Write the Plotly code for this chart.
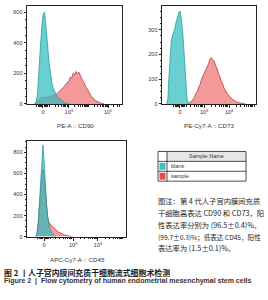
import numpy as np
import plotly.graph_objects as go

W, H = 268, 300

# ---------------- data (histogram counts, display-scale bins) ----------------
cd90_blank_start, cd90_blank_step = 8.0, 1.5
cd90_blank = [0, 12, 60, 180, 360, 500, 585, 600, 520, 400, 280, 200, 145, 105, 80,
              62, 48, 38, 28, 20, 14, 9, 5, 2, 0]
cd90_sample_start, cd90_sample_step = 8.0, 1.5
cd90_sample = [0, 8, 20, 30, 38, 42, 45, 40, 42, 44, 46, 48, 50, 52, 56, 62, 70, 78, 88, 95,
               105, 118, 130, 142, 150, 175, 168, 200, 190, 212, 196, 208, 185, 172, 148, 135,
               108, 98, 76, 64, 46, 40, 26, 21, 13, 10, 6, 4, 2, 0]

cd73_blank_start, cd73_blank_step = 5.0, 1.2
cd73_blank = [0, 20, 110, 200, 250, 275, 285, 300, 325, 340, 350, 372, 375, 345, 300, 235,
              150, 70, 20, 3, 0]
cd73_sample_start, cd73_sample_step = 27.0, 1.5
cd73_sample = [0, 3, 9, 11, 19, 26, 42, 50, 68, 78, 100, 112, 130, 137, 155, 162, 180, 188,
               176, 174, 155, 145, 122, 112, 92, 82, 64, 56, 42, 38, 28, 25, 18, 16, 10, 9,
               5, 4, 3, 2, 1, 0]

cd45_blank_start, cd45_blank_step = 9.0, 1.2
cd45_blank = [0, 40, 150, 330, 560, 780, 870, 700, 480, 300, 180, 110, 65, 38, 20, 10, 4, 0]
cd45_sample_start, cd45_sample_step = 9.0, 1.2
cd45_sample = [0, 30, 120, 280, 450, 590, 640, 560, 420, 280, 180, 135, 118, 105, 92, 85, 72,
               60, 52, 44, 36, 30, 25, 20, 16, 12, 10, 8, 6, 4, 2, 0]

# axis tick labels (display-scale positions of 0 / decades)
cd90_ticks = [16.8, 44.2, 85.3]
cd90_ticktext = ["0", "10<sup>3</sup>", "10<sup>5</sup>"]
cd73_ticks = [19.1, 44.7, 71.3]
cd73_ticktext = ["0", "10<sup>3</sup>", "10<sup>4</sup>"]
cd45_ticks = [17.2, 46.5, 71.7]
cd45_ticktext = ["0", "10<sup>3</sup>", "10<sup>4</sup>"]

cd90_yticks = [0, 200, 400, 600]
cd73_yticks = [0, 100, 200, 300]
cd45_yticks = [0, 200, 400, 600, 800]

x_titles = ["PE-A :: CD90", "PE-Cy7-A :: CD73", "APC-Cy7-A :: CD45"]
legend_header = "Sample Name"
legend_names = ["blank", "sample"]

note_lines = ["图注：第 4 代人子宫内膜间充质",
              "干细胞高表达 CD90 和 CD73，阳",
              "性表达率分别为 (96.5±0.4)%、",
              "(99.7±0.3)%；低表达 CD45，阳性",
              "表达率为 (1.5±0.1)%。"]
title_cn = "图 2 丨人子宫内膜间充质干细胞流式细胞术检测"
title_en = "Figure 2  |  Flow cytometry of human endometrial mesenchymal stem cells"

# ---------------- styles ----------------
BLANK_FILL = "rgba(48,188,190,0.72)"
BLANK_LINE = "#2b9a9c"
SAMPLE_FILL = "rgba(240,110,110,0.7)"
SAMPLE_LINE = "#b93a3c"
SW_BLANK = "#3cc0c0"
SW_SAMPLE = "#e64a4a"
AX = "#222222"
FONT = "Liberation Sans"
CJK = "Noto Sans CJK SC"

fig = go.Figure()


def add_hist(vals, start, step, xa, ya, fill, line):
    x = start + step * np.arange(len(vals))
    fig.add_trace(go.Scatter(x=x, y=vals, xaxis=xa, yaxis=ya, mode="lines",
                             line=dict(color=line, width=0.8), fill="tozeroy",
                             fillcolor=fill, showlegend=False, hoverinfo="skip"))


add_hist(cd90_sample, cd90_sample_start, cd90_sample_step, "x", "y", SAMPLE_FILL, SAMPLE_LINE)
add_hist(cd90_blank, cd90_blank_start, cd90_blank_step, "x", "y", BLANK_FILL, BLANK_LINE)
add_hist(cd73_sample, cd73_sample_start, cd73_sample_step, "x2", "y2", SAMPLE_FILL, SAMPLE_LINE)
add_hist(cd73_blank, cd73_blank_start, cd73_blank_step, "x2", "y2", BLANK_FILL, BLANK_LINE)
add_hist(cd45_sample, cd45_sample_start, cd45_sample_step, "x3", "y3", SAMPLE_FILL, SAMPLE_LINE)
add_hist(cd45_blank, cd45_blank_start, cd45_blank_step, "x3", "y3", BLANK_FILL, BLANK_LINE)


def minor_x(p0, p3, dec):
    cl = list(p0 + np.array([-6.5, -5, -3.6, -2.4, -1.2, 1.2, 2.4, 3.6, 5, 6.5]))
    lg = []
    for d in range(-1, 3):
        base = p3 + d * dec
        for k in range(1, 10):
            v = base + np.log10(k) * dec
            if p0 + 8 < v < 99:
                lg.append(v)
    return cl + lg


def xax(dom, tv, tt, p0, p3, dec, anchor):
    return dict(domain=dom, range=[0, 100], tickmode="array", tickvals=tv, ticktext=tt,
                ticks="outside", ticklen=3, tickwidth=0.8, tickcolor=AX,
                tickfont=dict(family=FONT, size=5.5, color="#333"),
                showline=True, mirror=True, linecolor=AX, linewidth=0.8,
                showgrid=False, zeroline=False, anchor=anchor,
                minor=dict(tickmode="array", tickvals=minor_x(p0, p3, dec), ticks="outside",
                           ticklen=1.8, tickwidth=0.6, tickcolor=AX, showgrid=False))


def yax(dom, rng, tv, mdt, anchor):
    return dict(domain=dom, range=rng, tickmode="array", tickvals=tv,
                ticks="outside", ticklen=2.5, tickwidth=0.8, tickcolor=AX,
                tickfont=dict(family=FONT, size=5.5, color="#333"),
                showline=True, mirror=True, linecolor=AX, linewidth=0.8,
                showgrid=False, zeroline=False, anchor=anchor,
                minor=dict(dtick=mdt, ticks="outside", ticklen=1.5, tickwidth=0.6,
                           tickcolor=AX, showgrid=False))


fig.update_layout(
    width=W, height=H, margin=dict(l=0, r=0, t=0, b=0),
    paper_bgcolor="white", plot_bgcolor="white", showlegend=False,
    xaxis=xax([27 / W, 122 / W], cd90_ticks, cd90_ticktext, 16.8, 44.2, 20.55, "y"),
    yaxis=yax([1 - 105 / H, 1 - 6 / H], [0, 640], cd90_yticks, 50, "x"),
    xaxis2=xax([162 / W, 256 / W], cd73_ticks, cd73_ticktext, 19.1, 44.7, 26.6, "y2"),
    yaxis2=yax([1 - 105 / H, 1 - 6 / H], [0, 396], cd73_yticks, 25, "x2"),
    xaxis3=xax([27 / W, 126 / W], cd45_ticks, cd45_ticktext, 17.2, 46.5, 25.2, "y3"),
    yaxis3=yax([1 - 239 / H, 1 - 142 / H], [0, 913], cd45_yticks, 50, "x3"),
)

ann = []


def text(x, y, s, size, family=FONT, color="#333", xanchor="center", bold=False):
    if bold:
        s = "<b>" + s + "</b>"
    ann.append(dict(x=x / W, y=1 - y / H, xref="paper", yref="paper", text=s,
                    showarrow=False, xanchor=xanchor, yanchor="middle",
                    font=dict(family=family, size=size, color=color)))


text(75, 127, x_titles[0], 6.2)
text(209, 127, x_titles[1], 6.2)
text(77, 262, x_titles[2], 6.2)

# legend table
shapes = []


def rect(x0, y0, x1, y1, fill=None, line=AX, lw=0.8):
    shapes.append(dict(type="rect", xref="paper", yref="paper",
                       x0=x0 / W, x1=x1 / W, y0=1 - y0 / H, y1=1 - y1 / H,
                       fillcolor=fill if fill else "rgba(0,0,0,0)",
                       line=dict(color=line, width=lw)))


def hline(x0, x1, y, lw=0.8):
    shapes.append(dict(type="line", xref="paper", yref="paper", x0=x0 / W, x1=x1 / W,
                       y0=1 - y / H, y1=1 - y / H, line=dict(color=AX, width=lw)))


def vline(x, y0, y1, lw=0.8):
    shapes.append(dict(type="line", xref="paper", yref="paper", x0=x / W, x1=x / W,
                       y0=1 - y0 / H, y1=1 - y1 / H, line=dict(color=AX, width=lw)))


rect(167, 153, 246, 163, fill="#e6e6e6", line="rgba(0,0,0,0)", lw=0)
rect(158, 153, 246, 183)
hline(158, 246, 163)
hline(158, 246, 173)
vline(167, 153, 183)
rect(159.5, 164.5, 165.5, 171.5, fill=SW_BLANK, line="rgba(0,0,0,0)", lw=0)
rect(159.5, 174.5, 165.5, 181.5, fill=SW_SAMPLE, line="rgba(0,0,0,0)", lw=0)
text(206, 158, legend_header, 5.5)
text(169, 168, legend_names[0], 5.5, xanchor="left")
text(169, 178, legend_names[1], 5.5, xanchor="left")

# note lines
note_sizes = [7.3, 7.3, 7.3, 6.6, 7.3]
for s, yy, fs in zip(note_lines, [203, 215, 227, 239, 250], note_sizes):
    text(156, yy, s, fs, family=CJK, color="#1e1e1e", xanchor="left")

text(2, 275, title_cn, 7.9, family=CJK, color="#1a1a1a", xanchor="left", bold=True)
text(2, 284, title_en, 7.0, family=FONT, color="#333", xanchor="left", bold=True)

fig.update_layout(annotations=ann, shapes=shapes)
fig.write_html("out.html")
